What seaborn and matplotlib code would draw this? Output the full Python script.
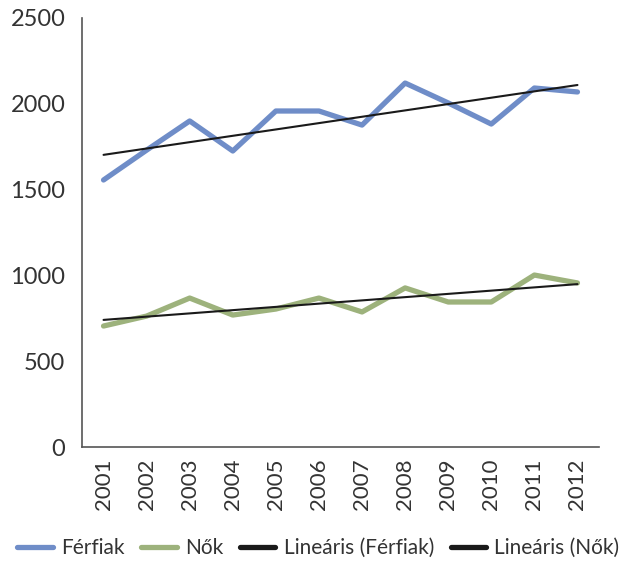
import numpy as np
import pandas as pd
import seaborn as sns
import matplotlib
matplotlib.use("Agg")
import matplotlib.pyplot as plt
from matplotlib.lines import Line2D

years = [2001, 2002, 2003, 2004, 2005, 2006, 2007, 2008, 2009, 2010, 2011, 2012]
ferfiak = [1556, 1730, 1900, 1725, 1958, 1958, 1876, 2121, 2005, 1882, 2092, 2069]
nok = [705, 763, 868, 769, 804, 868, 787, 927, 845, 845, 1002, 956]
series_names = ["Férfiak", "Nők", "Lineáris (Férfiak)", "Lineáris (Nők)"]
yticks = [0, 500, 1000, 1500, 2000, 2500]

blue = "#6F8DC8"
green = "#9DB27C"

sns.set_theme(style="white")
plt.rcParams["font.family"] = ["Lato", "DejaVu Sans"]

df = pd.DataFrame({
    "year": years * 2,
    "value": ferfiak + nok,
    "series": [series_names[0]] * len(years) + [series_names[1]] * len(years),
})

fig = plt.figure(figsize=(6.37, 5.65), dpi=100)
ax = fig.add_axes([82 / 637, 1 - 447 / 565, (599 - 82) / 637, (447 - 18) / 565])

sns.lineplot(data=df, x="year", y="value", hue="series",
             palette={series_names[0]: blue, series_names[1]: green},
             linewidth=3.8, ax=ax, legend=False, zorder=2)
sns.regplot(x=years, y=ferfiak, scatter=False, ci=None, truncate=True,
            line_kws={"color": "#1a1a1a", "linewidth": 1.5, "zorder": 3}, ax=ax)
sns.regplot(x=years, y=nok, scatter=False, ci=None, truncate=True,
            line_kws={"color": "#1a1a1a", "linewidth": 1.5, "zorder": 3}, ax=ax)

ax.set_xlim(years[0] - 0.5, years[-1] + 0.5)
ax.set_ylim(0, 2500)
ax.set_xlabel("")
ax.set_ylabel("")

for s in ["top", "right"]:
    ax.spines[s].set_visible(False)
for s in ["left", "bottom"]:
    ax.spines[s].set_color("#555555")
    ax.spines[s].set_linewidth(1.2)

ax.set_yticks(yticks)
ax.set_yticklabels([str(v) for v in yticks], fontsize=17, color="#333333")
ax.tick_params(axis="y", direction="in", length=9, width=1.2, color="#555555", pad=12)

bounds = [y + 0.5 for y in [years[0] - 1] + years]
ax.set_xticks(bounds)
ax.set_xticklabels([""] * len(bounds))
ax.tick_params(axis="x", which="major", direction="in", length=8, width=1.2, color="#555555")
ax.set_xticks(years, minor=True)
ax.set_xticklabels([str(y) for y in years], minor=True, rotation=90, fontsize=16, color="#333333")
ax.tick_params(axis="x", which="minor", length=0, pad=8)

handles = [
    Line2D([], [], color=blue, linewidth=3.8),
    Line2D([], [], color=green, linewidth=3.8),
    Line2D([], [], color="#1a1a1a", linewidth=3.8),
    Line2D([], [], color="#1a1a1a", linewidth=3.8),
]
fig.legend(handles, series_names, loc="center", bbox_to_anchor=(0.5, 1 - 548 / 565),
           ncol=4, frameon=False, fontsize=15, handlelength=1.7, handletextpad=0.4,
           columnspacing=0.8, labelcolor="#333333", borderpad=0, borderaxespad=0)

fig.savefig("out.png", dpi=100)
